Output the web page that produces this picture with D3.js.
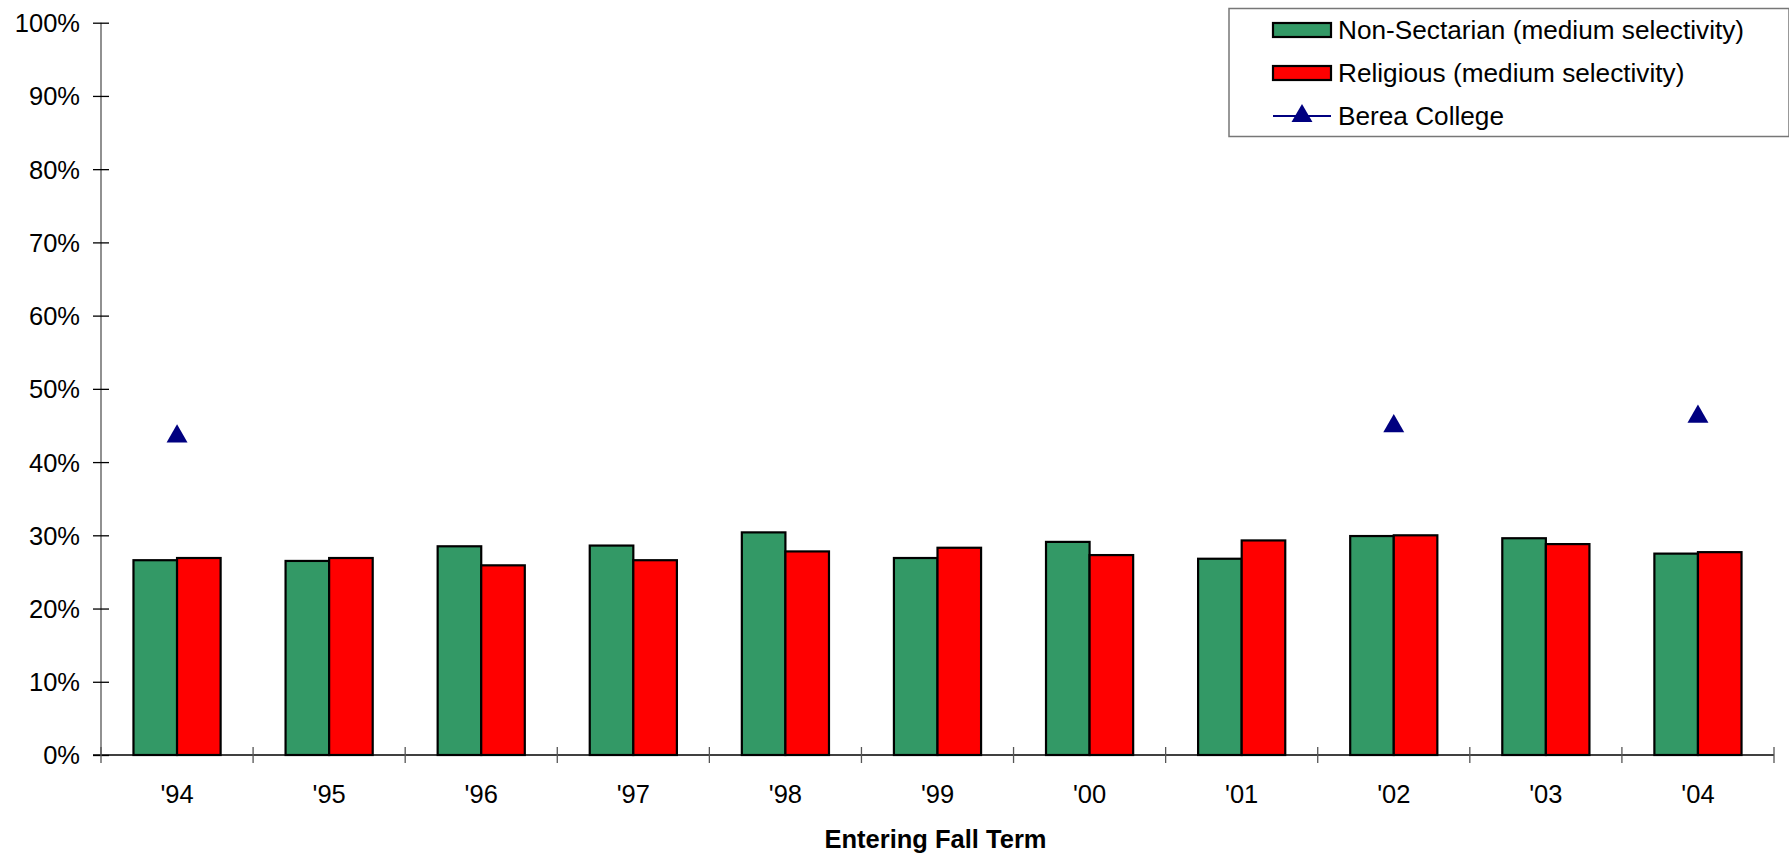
<!DOCTYPE html>
<html>
<head>
<meta charset="utf-8">
<script src="https://cdn.jsdelivr.net/npm/d3@7"></script>
<style>
  html, body { margin: 0; padding: 0; background: #fff; }
  svg { display: block; font-family: Arial, "Liberation Sans", sans-serif; }
</style>
</head>
<body>
<svg id="chart" width="1789" height="855"></svg>
<script>
const categories = ["'94", "'95", "'96", "'97", "'98", "'99", "'00", "'01", "'02", "'03", "'04"];
const nonSectarian = [26.6, 26.5, 28.5, 28.6, 30.4, 26.9, 29.1, 26.8, 29.9, 29.6, 27.5];
const religious    = [26.9, 26.9, 25.9, 26.6, 27.8, 28.3, 27.3, 29.3, 30.0, 28.8, 27.7];
const berea        = [43.5, null, null, null, null, null, null, null, 44.9, null, 46.2];
const yTicks = [0, 10, 20, 30, 40, 50, 60, 70, 80, 90, 100];
const seriesNames = ["Non-Sectarian (medium selectivity)", "Religious (medium selectivity)", "Berea College"];
const xTitle = "Entering Fall Term";

const colors = { green: "#339966", red: "#FF0000", navy: "#000080" };

const svg = d3.select("#chart");
const pLeft = 101, pRight = 1774, pTop = 22.7, pBottom = 755;
const FS = 25.5;

const y = d3.scaleLinear().domain([0, 100]).range([pBottom, pTop]);
const x0 = d3.scaleBand().domain(categories).range([pLeft, pRight])
  .paddingInner(0.427).paddingOuter(0.2135);
const x1 = d3.scaleBand().domain(["ns", "rel"]).range([0, x0.bandwidth()]);

// Bars
const groups = svg.append("g").selectAll("g")
  .data(categories.map((c, i) => ({ c, ns: nonSectarian[i], rel: religious[i] })))
  .join("g")
  .attr("transform", d => `translate(${x0(d.c)},0)`);

groups.selectAll("rect")
  .data(d => [{ k: "ns", v: d.ns }, { k: "rel", v: d.rel }])
  .join("rect")
  .attr("x", d => x1(d.k))
  .attr("y", d => y(d.v))
  .attr("width", x1.bandwidth())
  .attr("height", d => y(0) - y(d.v))
  .attr("fill", d => d.k === "ns" ? colors.green : colors.red)
  .attr("stroke", "#000")
  .attr("stroke-width", 2.2);

// Y axis
const yAxis = svg.append("g").attr("transform", `translate(${pLeft},0)`)
  .call(d3.axisLeft(y).tickValues(yTicks).tickFormat(d => d + "%").tickSize(8).tickPadding(13));
yAxis.select(".domain").attr("stroke", "#555").attr("stroke-width", 1.3).attr("d", `M0,${pTop}V${pBottom}`);
yAxis.selectAll(".tick line").attr("x1", -8).attr("x2", 8).attr("stroke", "#000").attr("stroke-width", 1.3);
yAxis.selectAll(".tick text").attr("font-size", FS).attr("fill", "#000")
  .attr("font-family", "Arial, 'Liberation Sans', sans-serif").attr("dy", "0.35em");

// X axis
const xAxis = svg.append("g").attr("transform", `translate(0,${pBottom})`)
  .call(d3.axisBottom(x0).tickSize(0).tickPadding(30));
xAxis.select(".domain").attr("stroke", "#000").attr("stroke-width", 1.3).attr("d", `M${pLeft - 8},0H${pRight}`);
xAxis.selectAll(".tick text").attr("font-size", FS).attr("fill", "#000")
  .attr("font-family", "Arial, 'Liberation Sans', sans-serif");
const boundaries = d3.range(categories.length + 1).map(i => pLeft + i * x0.step());
xAxis.selectAll(".bnd").data(boundaries).join("line")
  .attr("class", "bnd")
  .attr("x1", d => d).attr("x2", d => d)
  .attr("y1", -8).attr("y2", 8)
  .attr("stroke", "#555").attr("stroke-width", 1.3);

// X title
svg.append("text")
  .attr("x", (pLeft + pRight) / 2 - 2)
  .attr("y", 848)
  .attr("text-anchor", "middle")
  .attr("font-size", FS)
  .attr("font-weight", "bold")
  .text(xTitle);

// Berea markers
const tri = d3.symbol().type(d3.symbolTriangle).size(190);
svg.append("g").selectAll("path")
  .data(categories.map((c, i) => ({ c, v: berea[i] })).filter(d => d.v != null))
  .join("path")
  .attr("d", tri)
  .attr("transform", d => `translate(${x0(d.c) + x0.bandwidth() / 2},${y(d.v)})`)
  .attr("fill", colors.navy);

// Legend
const lg = svg.append("g");
lg.append("rect")
  .attr("x", 1229).attr("y", 8.5).attr("width", 560).attr("height", 128)
  .attr("fill", "#fff").attr("stroke", "#777").attr("stroke-width", 1.5);
const rowY = [30, 73, 116];
[colors.green, colors.red].forEach((c, i) => {
  lg.append("rect")
    .attr("x", 1273).attr("y", rowY[i] - 7).attr("width", 58).attr("height", 14)
    .attr("fill", c).attr("stroke", "#000").attr("stroke-width", 2.2);
});
lg.append("line")
  .attr("x1", 1273).attr("x2", 1331).attr("y1", rowY[2]).attr("y2", rowY[2])
  .attr("stroke", colors.navy).attr("stroke-width", 2);
lg.append("path").attr("d", tri).attr("transform", `translate(1302,${rowY[2]})`).attr("fill", colors.navy);
seriesNames.forEach((t, i) => {
  lg.append("text")
    .attr("x", 1338).attr("y", rowY[i]).attr("dy", "0.35em")
    .attr("font-size", 26.2)
    .text(t);
});
</script>
</body>
</html>
